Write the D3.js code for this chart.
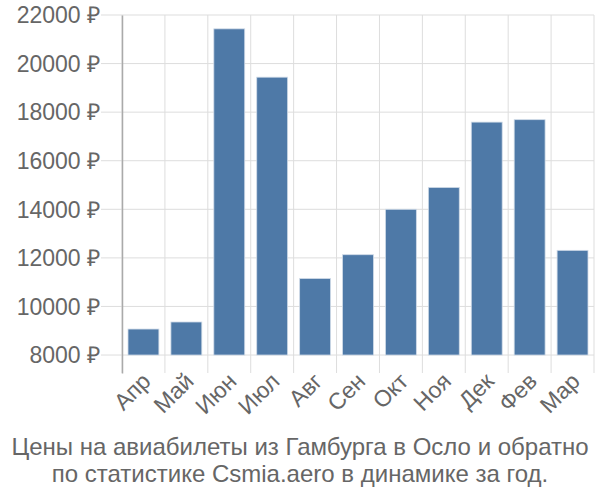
<!DOCTYPE html>
<html><head><meta charset="utf-8">
<script src="https://cdn.jsdelivr.net/npm/d3@7"></script>
<style>body{margin:0;background:#fff}svg{font-family:"Liberation Sans",Arial,sans-serif}</style>
</head><body>
<svg id="c" width="600" height="500"></svg>
<script>
const categories = ["Апр","Май","Июн","Июл","Авг","Сен","Окт","Ноя","Дек","Фев","Мар"];
const values = [9070, 9360, 21430, 19440, 11150, 12130, 14000, 14900, 17590, 17690, 12310];
const yTicks = [8000, 10000, 12000, 14000, 16000, 18000, 20000, 22000];
const titleLines = ["Цены на авиабилеты из Гамбурга в Осло и обратно", "по статистике Csmia.aero в динамике за год."];

const FS = 23;
const svg = d3.select("#c");
const L = 122, R = 594, T = 15, B = 373;
const x = d3.scaleBand().domain(categories).range([L, R]).paddingInner(0.28).paddingOuter(0.14);
const y = d3.scaleLinear().domain([7260, 22000]).range([B, T]);

// vertical grid at band boundaries
const step = x.step();
const bounds = d3.range(categories.length + 1).map(i => L + i * step);
svg.append("g").selectAll("line").data(bounds).join("line")
  .attr("x1", d => d).attr("x2", d => d).attr("y1", T).attr("y2", B)
  .attr("stroke", "#ddd").attr("stroke-width", 1);
// horizontal grid
svg.append("g").selectAll("line").data(yTicks).join("line")
  .attr("x1", 101).attr("x2", R).attr("y1", d => y(d)).attr("y2", d => y(d))
  .attr("stroke", "#ddd").attr("stroke-width", 1);

// y axis
const yAxis = d3.axisLeft(y).tickValues(yTicks).tickSize(0).tickPadding(22).tickFormat(d => d + " ₽");
const gy = svg.append("g").attr("transform", `translate(${L},0)`).call(yAxis);
gy.select(".domain").attr("stroke", "#aaa").attr("stroke-width", 1.5);
gy.selectAll("text").attr("font-size", FS).attr("fill", "#666")
  .attr("font-family", "Liberation Sans, Arial, sans-serif").attr("dy", "0.34em");

// bars
svg.append("g").selectAll("rect").data(values).join("rect")
  .attr("x", (d, i) => x(categories[i]))
  .attr("width", x.bandwidth())
  .attr("y", d => y(d))
  .attr("height", d => y(8000) - y(d))
  .attr("fill", "#4e79a7").attr("stroke", "#d0dbe8").attr("stroke-width", 0.8);

// x axis labels
const xAxis = d3.axisBottom(x).tickSize(0).tickPadding(0);
const gx = svg.append("g").attr("transform", `translate(0,${B})`).call(xAxis);
gx.select(".domain").remove();
gx.selectAll("text").attr("font-size", FS).attr("fill", "#666")
  .attr("font-family", "Liberation Sans, Arial, sans-serif")
  .attr("text-anchor", "end").attr("x", 0).attr("y", 0).attr("dy", "0.35em")
  .attr("transform", "translate(3,4) rotate(-45)");

// title
svg.append("g").selectAll("text").data(titleLines).join("text")
  .attr("x", 300).attr("y", (d, i) => 455 + i * 27)
  .attr("text-anchor", "middle").attr("font-size", 24).attr("fill", "#666")
  .text(d => d);
</script>
</body></html>
